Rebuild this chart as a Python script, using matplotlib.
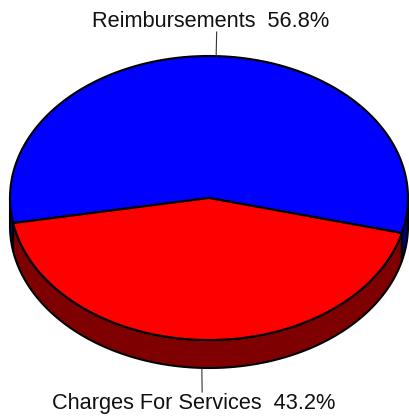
import numpy as np
import matplotlib
matplotlib.use("Agg")
import matplotlib.pyplot as plt
from matplotlib.patches import Polygon

# Share of revenue by source
labels = ["Reimbursements", "Charges For Services"]
values = [56.8, 43.2]
top_colors = ["#0000FF", "#FF0000"]
side_colors = ["#00007F", "#7F0000"]

W, H = 409, 417
fig = plt.figure(figsize=(W / 100, H / 100), dpi=100)
ax = fig.add_axes([0, 0, 1, 1])
ax.set_xlim(0, W)
ax.set_ylim(H, 0)
ax.axis("off")

# Ellipse geometry in pixel space
cx, cy, rx, ry, depth = 209.0, 198.0, 199.0, 142.0, 28.0
start = -14.3  # degrees, counter-clockwise
lw = 1.5


def pt(a, dy=0.0):
    r = np.radians(a)
    return cx + rx * np.cos(r), cy - ry * np.sin(r) + dy


def arc(a0, a1, dy=0.0, n=200):
    t = np.linspace(a0, a1, n)
    r = np.radians(t)
    return np.column_stack([cx + rx * np.cos(r), cy - ry * np.sin(r) + dy])


total = sum(values)
spans = []
a = start
for v in values:
    b = a + 360.0 * v / total
    spans.append((a, b))
    a = b

# Side walls: only the front half (180..360 deg) is visible
for (a0, a1), sc in zip(spans, side_colors):
    for k in (-1, 0, 1):
        lo = max(a0, 180 + 360 * k)
        hi = min(a1, 360 + 360 * k)
        if hi > lo:
            top = arc(lo, hi)
            bot = arc(hi, lo, depth)
            ax.add_patch(Polygon(np.vstack([top, bot]), closed=True,
                                 facecolor=sc, edgecolor="black",
                                 linewidth=lw, joinstyle="round", zorder=1))

# Top face wedges
for (a0, a1), tc in zip(spans, top_colors):
    pts = np.vstack([[cx, cy], arc(a0, a1)])
    ax.add_patch(Polygon(pts, closed=True, facecolor=tc, edgecolor="black",
                         linewidth=lw, joinstyle="round", zorder=2))

# Leader lines and labels
label_pos = [(210.7, 27.3), (193.5, 409.0)]
for (a0, a1), lab, v, (tx, ty) in zip(spans, labels, values, label_pos):
    mid = (a0 + a1) / 2
    s = np.sin(np.radians(mid))
    if s >= 0:
        x0, y0 = pt(mid)
        ax.plot([x0, x0 + 0.5], [y0, 32], color="#333333", lw=0.8, zorder=3)
    else:
        x0, y0 = pt(mid, depth)
        ax.plot([x0, x0 + 0.3], [y0 + 1, 392], color="#333333", lw=0.8, zorder=3)
    ax.text(tx, ty, f"{lab}  {v:.1f}%", ha="center", va="baseline",
            fontsize=15.7, family="Liberation Sans", color="#111111")

fig.savefig("out.png", dpi=100)
